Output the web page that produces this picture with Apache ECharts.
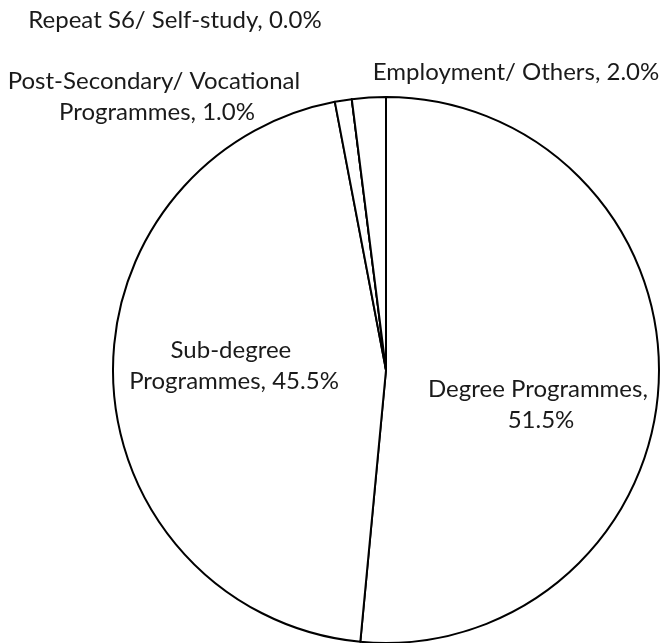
<!DOCTYPE html>
<html>
<head>
<meta charset="utf-8">
<script src="https://cdn.jsdelivr.net/npm/echarts@6/dist/echarts.min.js"></script>
<style>
html,body{margin:0;padding:0;background:#fff;}
#main{width:662px;height:643px;}
</style>
</head>
<body>
<div id="main"></div>
<script>
// 数据
var categories = ['Degree Programmes', 'Sub-degree Programmes', 'Post-Secondary/ Vocational Programmes', 'Repeat S6/ Self-study', 'Employment/ Others'],
	values = [51.5, 45.5, 1.0, 0.0, 2.0];

// 标签位置 (中心点) 与换行宽度
var labelPos = [
		[541, 405],
		[234, 366],
		[157, 97],
		[175, 20],
		[516, 72]
	],
	labelWidth = [235, 215, 315, 330, 330];

var chart = echarts.init(document.querySelector('#main'));

var seriesData = categories.map(function(name, i){
	return {
		name: name,
		value: values[i],
		label: {
			width: labelWidth[i],
			overflow: 'break'
		}
	};
});

var option = {
	animation: false,
	series: [{
		type: 'pie',
		center: [386, 370],
		radius: 273,
		startAngle: 90,
		clockwise: true,
		avoidLabelOverlap: false,
		itemStyle: {
			color: '#fff',
			borderColor: '#000',
			borderWidth: 2
		},
		emphasis: {disabled: true},
		label: {
			show: true,
			position: 'inside',
			color: '#1a1a1a',
			fontFamily: 'Lato',
			fontSize: 24,
			lineHeight: 31,
			align: 'center',
			formatter: function(p){
				return p.name + ', ' + p.value.toFixed(1) + '%';
			}
		},
		labelLine: {show: false},
		labelLayout: function(params){
			var pos = labelPos[params.dataIndex];
			return {
				x: pos[0],
				y: pos[1],
				align: 'center',
				verticalAlign: 'middle'
			};
		},
		data: seriesData
	}]
};

chart.setOption(option);
</script>
</body>
</html>
